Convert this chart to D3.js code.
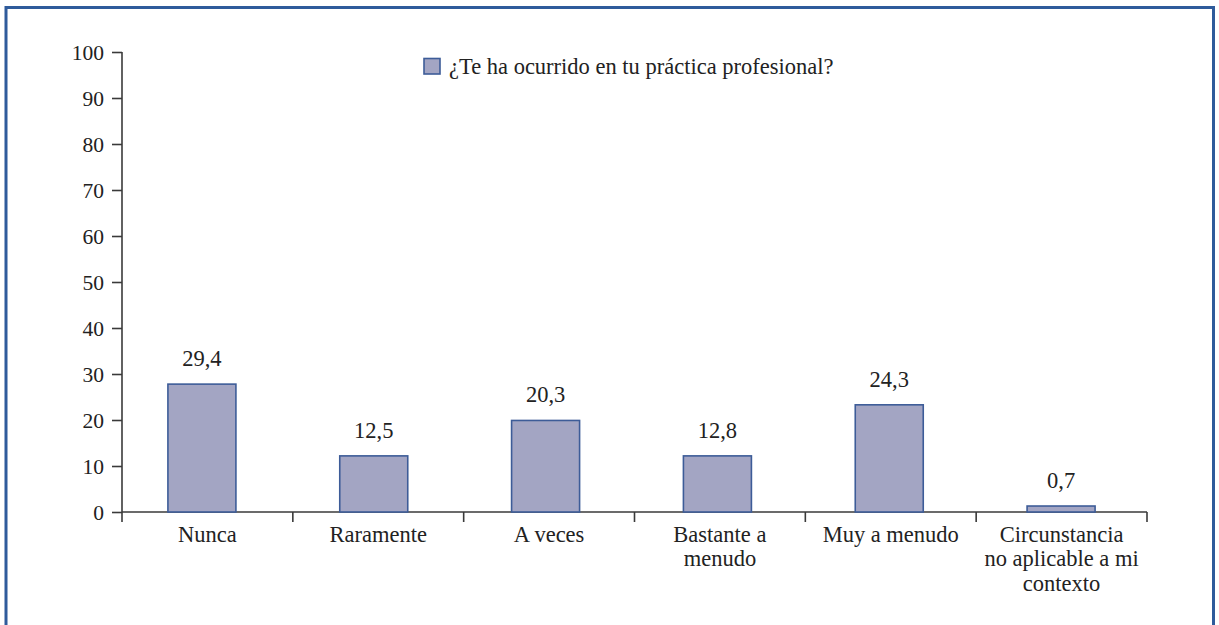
<!DOCTYPE html>
<html>
<head>
<meta charset="utf-8">
<script src="https://cdn.jsdelivr.net/npm/d3@7"></script>
<style>
  html, body { margin: 0; padding: 0; background: #fff; }
  svg { display: block; }
</style>
</head>
<body>
<svg id="chart" width="1219" height="625"></svg>
<script>
// ---- data ----
const categories = [
  ["Nunca"],
  ["Raramente"],
  ["A veces"],
  ["Bastante a", "menudo"],
  ["Muy a menudo"],
  ["Circunstancia", "no aplicable a mi", "contexto"]
];
const values = [29.4, 12.5, 20.3, 12.8, 24.3, 0.7];          // printed values
const barHeights = [27.8, 12.2, 19.9, 12.2, 23.3, 1.3];       // heights as drawn in the picture
const valueLabels = ["29,4", "12,5", "20,3", "12,8", "24,3", "0,7"];
const yTicks = [0, 10, 20, 30, 40, 50, 60, 70, 80, 90, 100];
const seriesName = "¿Te ha ocurrido en tu práctica profesional?";

(function () {
// ---- layout ----
const svg = d3.select("#chart");
const FONT = '"Liberation Serif"';
const fs = "22.5px";
const fsTick = "21.5px";
const mLeft = 122, mRight = 1147, mTop = 52, mBottom = 512;

// frame
svg.append("path")
  .attr("d", `M6,640 L6,7.5 L1213.5,7.5 L1213.5,640`)
  .attr("fill", "none").attr("stroke", "#2f5b9b").attr("stroke-width", 3);

const xb = d3.scaleBand().domain(d3.range(categories.length)).range([mLeft, mRight]);
const xBar = d3.scaleBand().domain(d3.range(categories.length)).range([mLeft - 6, mRight]);
const y = d3.scaleLinear().domain([0, 100]).range([mBottom, mTop]);

// y axis
const yAxis = svg.append("g").attr("transform", `translate(${mLeft},0)`)
  .call(d3.axisLeft(y).tickValues(yTicks).tickSize(10).tickPadding(8).tickFormat(d3.format("d")));
yAxis.select(".domain").attr("stroke", "#3a3a3a").attr("stroke-width", 1.6).attr("d", `M0,${mTop}V${mBottom}`);
yAxis.selectAll(".tick line").attr("stroke", "#3a3a3a").attr("stroke-width", 1.6);
yAxis.selectAll(".tick text").style("font-family", FONT).style("font-size", fsTick).attr("fill", "#222").attr("dy", "0.35em");

// x axis
const xg = svg.append("g").attr("transform", `translate(0,${mBottom})`);
xg.append("line").attr("x1", mLeft).attr("x2", mRight).attr("y1", 0).attr("y2", 0)
  .attr("stroke", "#3a3a3a").attr("stroke-width", 1.6);
const bounds = d3.range(categories.length + 1).map(i => i < categories.length ? xb(i) : xb(i - 1) + xb.bandwidth());
xg.selectAll("line.tk").data(bounds).join("line").attr("class", "tk")
  .attr("x1", d => d).attr("x2", d => d).attr("y1", 0).attr("y2", 10)
  .attr("stroke", "#3a3a3a").attr("stroke-width", 1.6);

const xl = svg.append("g").selectAll("text").data(categories).join("text")
  .attr("x", (d, i) => xb(i) + xb.bandwidth() / 2)
  .attr("y", 541.5)
  .attr("text-anchor", "middle")
  .style("font-family", FONT).style("font-size", fs).attr("fill", "#222");
xl.each(function (lines, i) {
  d3.select(this).selectAll("tspan").data(lines).join("tspan")
    .attr("x", xb(i) + xb.bandwidth() / 2)
    .attr("dy", (l, j) => j === 0 ? 0 : 24.5)
    .text(l => l);
});

// bars
svg.append("g").selectAll("rect").data(barHeights).join("rect")
  .attr("x", (d, i) => xBar(i) + xBar.bandwidth() / 2 - 34)
  .attr("width", 68)
  .attr("y", d => y(d))
  .attr("height", d => mBottom - y(d))
  .attr("fill", "#a3a5c3").attr("stroke", "#3d5c98").attr("stroke-width", 1.6);

// value labels
svg.append("g").selectAll("text").data(valueLabels).join("text")
  .attr("x", (d, i) => xBar(i) + xBar.bandwidth() / 2)
  .attr("y", (d, i) => y(barHeights[i]) - 18)
  .attr("text-anchor", "middle")
  .style("font-family", FONT).style("font-size", fs).attr("fill", "#222")
  .text(d => d);

// legend
const lg = svg.append("g");
lg.append("rect").attr("x", 424).attr("y", 58.5).attr("width", 16).attr("height", 15.5)
  .attr("fill", "#a3a5c3").attr("stroke", "#3d5c98").attr("stroke-width", 1.6);
lg.append("text").attr("x", 449).attr("y", 73.5)
  .style("font-family", FONT).style("font-size", fs).attr("fill", "#222")
  .text(seriesName);
})();
</script>
</body>
</html>
